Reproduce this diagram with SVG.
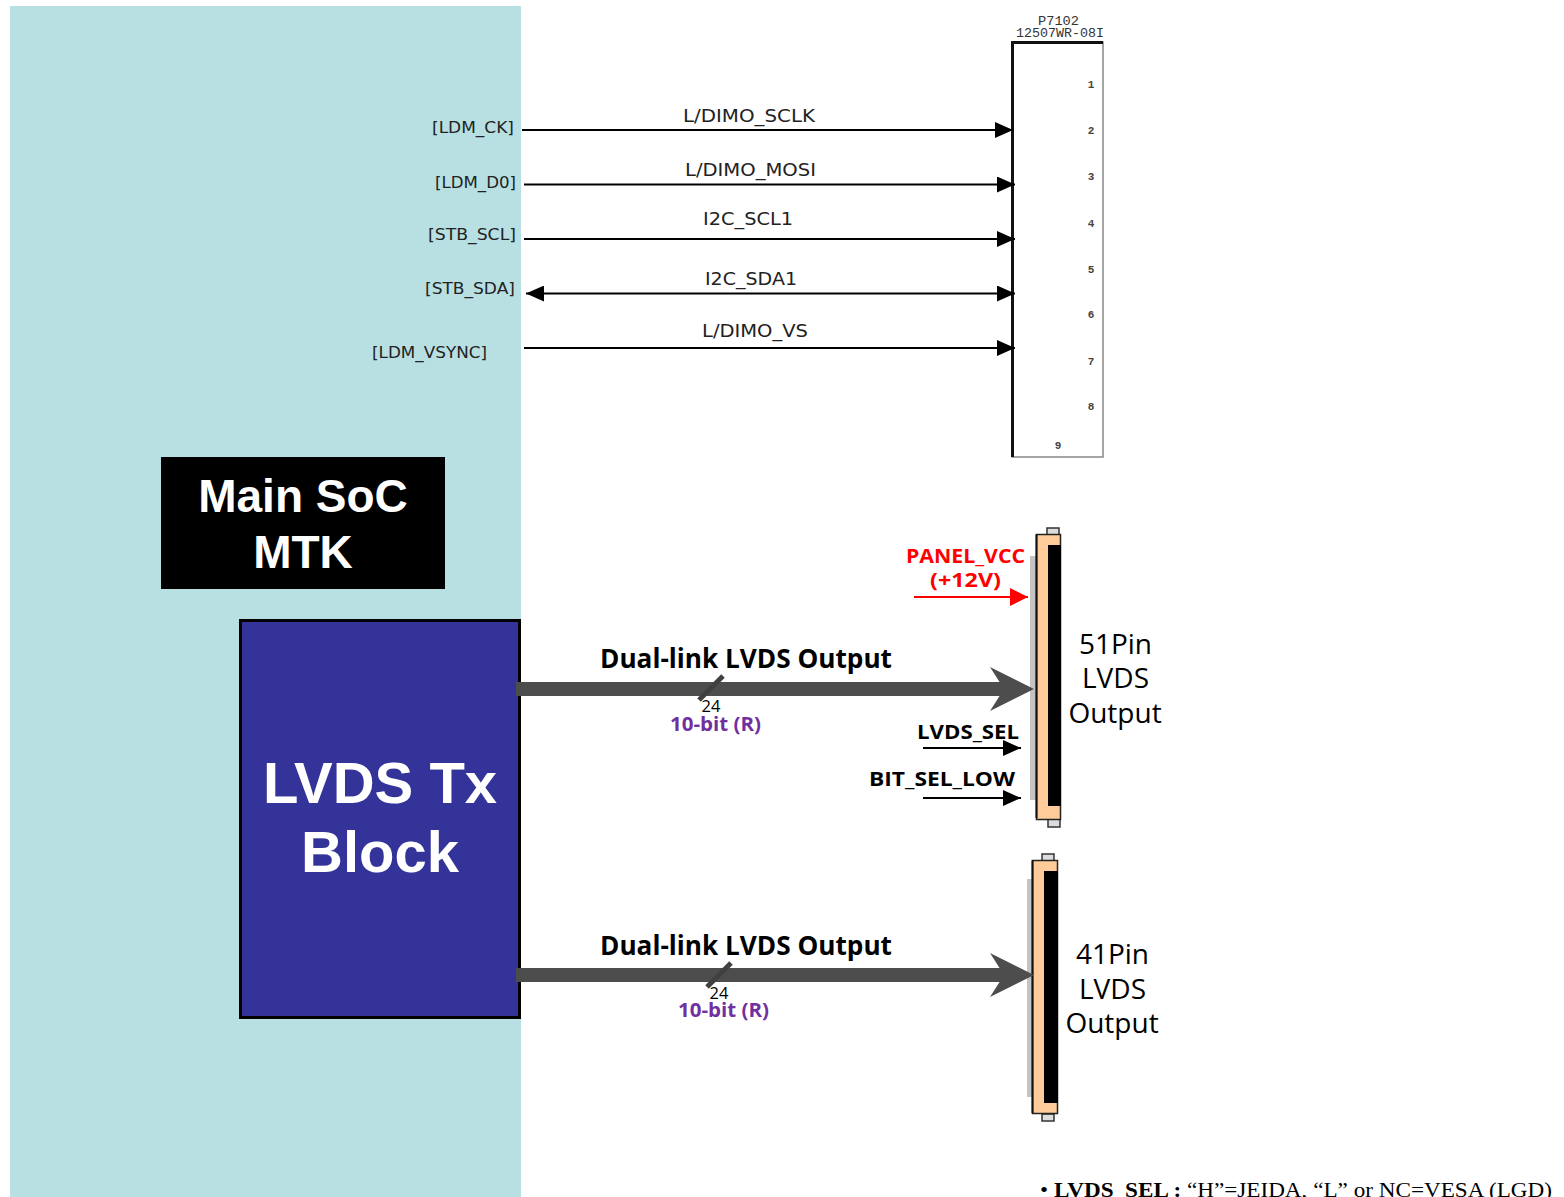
<svg xmlns="http://www.w3.org/2000/svg" width="1564" height="1197" viewBox="0 0 1564 1197">
<style>
text{font-family:"Open Sans","DejaVu Sans",sans-serif;fill:#000}
.sig{font-family:"DejaVu Sans",sans-serif;font-size:16.500px;fill:#222;lengthAdjust:spacingAndGlyphs}
.net{font-family:"DejaVu Sans",sans-serif;font-size:17.500px;fill:#222}
.pin{font-family:"Liberation Mono",monospace;font-size:11px;font-weight:700;fill:#444;text-anchor:middle}
.ref{font-family:"Liberation Mono",monospace;font-size:13px;fill:#333}
.b{font-weight:700}
.dl{font-size:26px;font-weight:700}
.big{font-family:"Liberation Sans",Arial,sans-serif;font-weight:700;fill:#fff;text-anchor:middle}
.pl{font-size:28px;text-anchor:middle}
.pur{font-size:20px;font-weight:700;fill:#7030a0}
.red{fill:#f00}
.thin{stroke:#000;stroke-width:2;fill:none}
.fat{stroke:#4d4d4d;stroke-width:14;fill:none}
.tick{stroke:#404040;stroke-width:5;fill:none}
</style>
<defs>
<marker id="ah" markerUnits="userSpaceOnUse" markerWidth="18" markerHeight="16" refX="18" refY="8" orient="auto-start-reverse"><path d="M0 0L18 8L0 16z" fill="#000"/></marker>
<marker id="ar" markerUnits="userSpaceOnUse" markerWidth="18" markerHeight="18" refX="18" refY="9" orient="auto"><path d="M0 0L18 9L0 18z" fill="#f00"/></marker>
</defs>
<g id="soc"><rect x="10" y="6" width="511" height="1191" fill="#b8e0e2"/></g>
<g id="label-soc"><rect x="161" y="457" width="284" height="132" fill="#000"/><text class="big" x="303" y="512" font-size="46">Main SoC</text><text class="big" x="303" y="568" font-size="46">MTK</text></g>
<g id="lvds-tx"><rect x="240.500" y="620.500" width="279" height="397" fill="#333399" stroke="#000" stroke-width="3"/><text class="big" x="380" y="803" font-size="58">LVDS Tx</text><text class="big" x="380" y="872" font-size="58">Block</text></g>
<g id="signal-labels">
<text class="sig" x="432" y="133" textLength="82" lengthAdjust="spacingAndGlyphs">[LDM_CK]</text>
<text class="sig" x="435" y="188" textLength="81" lengthAdjust="spacingAndGlyphs">[LDM_D0]</text>
<text class="sig" x="428" y="240" textLength="88" lengthAdjust="spacingAndGlyphs">[STB_SCL]</text>
<text class="sig" x="425" y="294" textLength="90" lengthAdjust="spacingAndGlyphs">[STB_SDA]</text>
<text class="sig" x="372" y="358" textLength="115" lengthAdjust="spacingAndGlyphs">[LDM_VSYNC]</text>
</g>
<g id="p7102">
<rect x="1012" y="42" width="91" height="415" fill="#fff" stroke="#888" stroke-width="1.500"/>
<path d="M1012.500 457V42.500H1103" fill="none" stroke="#111" stroke-width="3"/>
<text class="ref" x="1038" y="25" textLength="41" lengthAdjust="spacingAndGlyphs">P7102</text>
<text class="ref" x="1016" y="37" textLength="88" lengthAdjust="spacingAndGlyphs">12507WR-08I</text>
<text class="pin" x="1091" y="88">1</text><text class="pin" x="1091" y="134">2</text><text class="pin" x="1091" y="180">3</text><text class="pin" x="1091" y="227">4</text><text class="pin" x="1091" y="273">5</text><text class="pin" x="1091" y="318">6</text><text class="pin" x="1091" y="365">7</text><text class="pin" x="1091" y="410">8</text><text class="pin" x="1058" y="449">9</text>
</g>
<g id="conn-51">
<rect x="1030" y="556" width="6" height="244" fill="#c4c4c4"/>
<rect x="1047" y="528" width="12" height="7" fill="#ddd" stroke="#333" stroke-width="1.500"/>
<rect x="1048" y="819" width="12" height="8" fill="#ddd" stroke="#333" stroke-width="1.500"/>
<path d="M1036.500 534.500H1060.500V819.500H1036.500z" fill="#ffcc99" stroke="#222" stroke-width="1.500"/>
<path d="M1048 545H1061V806H1048z" fill="#000"/>
<path d="M1036.500 534.500V818" fill="none" stroke="#111" stroke-width="2"/>
<text class="pl" x="1115.500" y="654">51Pin</text><text class="pl" x="1115.500" y="688">LVDS</text><text class="pl" x="1115" y="723">Output</text>
</g>
<g id="conn-41">
<rect x="1027" y="879" width="6" height="218" fill="#c4c4c4"/>
<rect x="1042" y="854" width="12" height="7" fill="#ddd" stroke="#333" stroke-width="1.500"/>
<rect x="1042" y="1114" width="12" height="7" fill="#ddd" stroke="#333" stroke-width="1.500"/>
<path d="M1032.500 860.500H1057.500V1113.500H1032.500z" fill="#ffcc99" stroke="#222" stroke-width="1.500"/>
<path d="M1044 871H1058V1103H1044z" fill="#000"/>
<path d="M1032.500 860.500V1113" fill="none" stroke="#111" stroke-width="2"/>
<text class="pl" x="1112.500" y="964">41Pin</text><text class="pl" x="1112.500" y="999">LVDS</text><text class="pl" x="1112" y="1033">Output</text>
</g>
<g id="connectors">
<path class="thin" d="M522 130H1013" marker-end="url(#ah)"/>
<path class="thin" d="M524 184.500H1015" marker-end="url(#ah)"/>
<path class="thin" d="M524 239H1015" marker-end="url(#ah)"/>
<path class="thin" d="M526 293.500H1015" marker-start="url(#ah)" marker-end="url(#ah)"/>
<path class="thin" d="M524 348H1015" marker-end="url(#ah)"/>
<path class="fat" d="M516 689H1020"/><path d="M990 667L1034 689L990 711L1004 689z" fill="#4d4d4d"/>
<path class="fat" d="M516 975H1020"/><path d="M990 953L1034 975L990 997L1004 975z" fill="#4d4d4d"/>
<path class="tick" d="M699 700L723 676"/><path class="tick" d="M707 987L731 963"/>
<path d="M914 597H1028" stroke="#f00" stroke-width="2" fill="none" marker-end="url(#ar)"/>
<path class="thin" d="M923 748H1021" marker-end="url(#ah)"/>
<path class="thin" d="M923 798H1021" marker-end="url(#ah)"/>
</g>
<g id="net-labels">
<text class="net" x="683" y="122" textLength="132" lengthAdjust="spacingAndGlyphs">L/DIMO_SCLK</text>
<text class="net" x="685" y="176" textLength="131" lengthAdjust="spacingAndGlyphs">L/DIMO_MOSI</text>
<text class="net" x="703" y="225" textLength="90" lengthAdjust="spacingAndGlyphs">I2C_SCL1</text>
<text class="net" x="705" y="285" textLength="92" lengthAdjust="spacingAndGlyphs">I2C_SDA1</text>
<text class="net" x="702" y="337" textLength="106" lengthAdjust="spacingAndGlyphs">L/DIMO_VS</text>
<text class="dl" x="600" y="668" textLength="292" lengthAdjust="spacingAndGlyphs">Dual-link LVDS Output</text>
<text class="dl" x="600" y="955" textLength="292" lengthAdjust="spacingAndGlyphs">Dual-link LVDS Output</text>
<text x="711" y="712" font-size="16.500" text-anchor="middle">24</text>
<text x="719" y="999" font-size="16.500" text-anchor="middle">24</text>
<text class="pur" x="670" y="731" textLength="91" lengthAdjust="spacingAndGlyphs">10-bit (R)</text>
<text class="pur" x="678" y="1017" textLength="91" lengthAdjust="spacingAndGlyphs">10-bit (R)</text>
<text class="b red" x="906" y="563" font-size="20" textLength="119" lengthAdjust="spacingAndGlyphs">PANEL_VCC</text>
<text class="b red" x="930" y="587" font-size="20" textLength="71" lengthAdjust="spacingAndGlyphs">(+12V)</text>
<text class="b" x="917" y="739" font-size="20" textLength="102" lengthAdjust="spacingAndGlyphs">LVDS_SEL</text>
<text class="b" x="869" y="786" font-size="20" textLength="146" lengthAdjust="spacingAndGlyphs">BIT_SEL_LOW</text>
</g>
<g id="note"><text x="1040" y="1197" font-size="21" textLength="512" lengthAdjust="spacingAndGlyphs" style="font-family:'Liberation Serif',serif">• <tspan font-weight="700">LVDS_SEL :</tspan> “H”=JEIDA, “L” or NC=VESA (LGD)</text></g>
</svg>
